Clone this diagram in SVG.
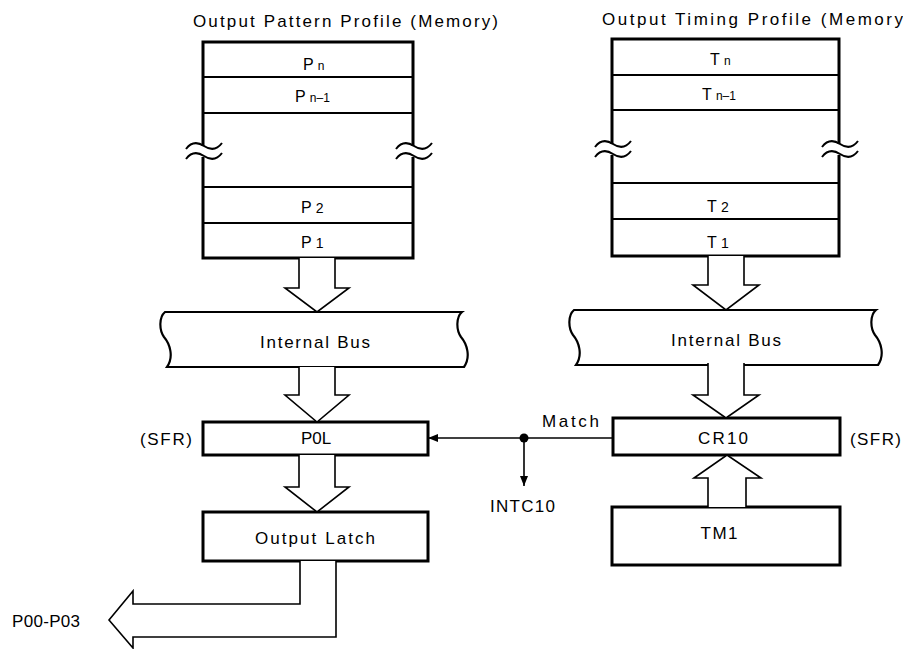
<svg xmlns="http://www.w3.org/2000/svg" width="903" height="649" viewBox="0 0 903 649">
<style>
.t{font-family:"Liberation Sans",Arial,sans-serif;font-size:17px;fill:#000}
.box{fill:#fff;stroke:#000;stroke-width:3}
.ln{fill:none;stroke:#000;stroke-width:2}
.thin{fill:none;stroke:#000;stroke-width:1.6}
.arr{fill:#fff;stroke:#000;stroke-width:1.6;stroke-linejoin:miter}
.bus{fill:#fff;stroke:#000;stroke-width:2.2}
.sub{font-size:12px}
</style>
<defs>
<marker id="ah" viewBox="0 0 10 8" refX="10" refY="4" markerWidth="10" markerHeight="8" markerUnits="userSpaceOnUse" orient="auto">
<path d="M0,0 L10,4 L0,8 Z" fill="#000"/>
</marker>
</defs>

<text class="t" x="193" y="27" textLength="305" lengthAdjust="spacing">Output Pattern Profile (Memory)</text>
<text class="t" x="602" y="25" textLength="301" lengthAdjust="spacing">Output Timing Profile (Memory</text>

<g id="pattern-memory">
<rect x="203" y="42" width="210" height="216" fill="#fff"/>
<path class="ln" d="M203,77 H413 M203,113 H413 M203,187 H413 M203,223 H413"/>
<path class="ln" style="stroke-width:3" d="M203,146 V42 H413 V146 M203,157 V258 H413 V157"/>
<path class="ln" d="M186,149 C192,141 198,142 204,146 S216,151 222,143 M186,159 C192,151 198,152 204,156 S216,161 222,153"/>
<path class="ln" d="M396,149 C402,141 408,142 414,146 S426,151 432,143 M396,159 C402,151 408,152 414,156 S426,161 432,153"/>
<text class="t" x="303" y="70" style="font-size:16px">P <tspan class="sub">n</tspan></text>
<text class="t" x="295" y="102" style="font-size:16px">P <tspan class="sub">n–1</tspan></text>
<text class="t" x="301" y="213" style="font-size:16px">P <tspan style="font-size:14px">2</tspan></text>
<text class="t" x="301" y="248" style="font-size:16px">P <tspan style="font-size:14px">1</tspan></text>
</g>

<g id="timing-memory">
<rect x="612" y="39" width="227" height="217" fill="#fff"/>
<path class="ln" d="M612,75 H839 M612,110 H839 M612,183 H839 M612,219 H839"/>
<path class="ln" style="stroke-width:3" d="M612,144 V39 H839 V144 M612,155 V256 H839 V155"/>
<path class="ln" d="M595,147 C601,139 607,140 613,144 S625,149 631,141 M595,157 C601,149 607,150 613,154 S625,159 631,151"/>
<path class="ln" d="M822,147 C828,139 834,140 840,144 S852,149 858,141 M822,157 C828,149 834,150 840,154 S852,159 858,151"/>
<text class="t" x="710" y="65" style="font-size:16px">T <tspan class="sub">n</tspan></text>
<text class="t" x="702" y="100" style="font-size:16px">T <tspan class="sub">n–1</tspan></text>
<text class="t" x="707" y="212" style="font-size:16px">T <tspan style="font-size:14px">2</tspan></text>
<text class="t" x="707" y="248" style="font-size:16px">T <tspan style="font-size:14px">1</tspan></text>
</g>

<g id="bus-left">
<path class="bus" d="M165,312 H462 C456,317 456,330 461,337 C467,344 471,357 464,367 H167 C174,357 170,344 164,337 C159,330 159,317 165,312 Z"/>
<text class="t" x="315" y="348" text-anchor="middle" textLength="110" lengthAdjust="spacing">Internal Bus</text>
</g>

<g id="bus-right">
<path class="bus" d="M574,310 H876 C870,315 870,328 875,335 C881,342 885,355 878,365 H576 C583,355 579,342 573,335 C568,328 568,315 574,310 Z"/>
<text class="t" x="726" y="346" text-anchor="middle" textLength="110" lengthAdjust="spacing">Internal Bus</text>
</g>

<g id="p0l">
<rect class="box" x="203" y="422" width="225" height="33"/>
<text class="t" x="316" y="444" text-anchor="middle">P0L</text>
</g>
<text class="t" x="140" y="445" textLength="52" lengthAdjust="spacing">(SFR)</text>

<g id="cr10">
<rect class="box" x="613" y="418" width="227" height="37"/>
<text class="t" x="723" y="444" text-anchor="middle" textLength="50" lengthAdjust="spacing">CR10</text>
</g>
<text class="t" x="850" y="445" textLength="51" lengthAdjust="spacing">(SFR)</text>

<g id="output-latch">
<rect class="box" x="203" y="512" width="225" height="49"/>
<text class="t" x="255" y="544" textLength="120" lengthAdjust="spacing">Output Latch</text>
</g>

<g id="tm1">
<rect class="box" x="612" y="507" width="228" height="58"/>
<text class="t" x="719" y="539" text-anchor="middle" textLength="37" lengthAdjust="spacing">TM1</text>
</g>

<g id="connectors">
<path class="arr" d="M299,258 V288 H285 L317,312 L349,288 H335 V258"/>
<path class="arr" d="M299,367 V395 H285 L317,422 L349,395 H335 V367"/>
<path class="arr" d="M299,455 V487 H285 L317,512 L349,487 H335 V455"/>
<path class="arr" d="M708,256 V285 H693 L726,310 L759,285 H744 V256"/>
<path class="arr" d="M708,363 V395 H693 L726,418 L759,395 H744 V363"/>
<path class="arr" d="M708,507 V478 H694 L727,455 L761,478 H746 V507"/>
<path class="arr" d="M300,561 V604 H133 V591 L109,620 L133,648 V637 H336 V561"/>
<path class="thin" d="M613,438 H428" marker-end="url(#ah)"/>
<circle cx="524" cy="438" r="4.5" fill="#000"/>
<path class="thin" d="M524,438 V486" marker-end="url(#ah)"/>
</g>

<text class="t" x="542" y="427" textLength="57" lengthAdjust="spacing">Match</text>
<text class="t" x="490" y="512" textLength="65" lengthAdjust="spacing">INTC10</text>
<text class="t" x="12" y="627" textLength="68" lengthAdjust="spacing">P00-P03</text>
</svg>
